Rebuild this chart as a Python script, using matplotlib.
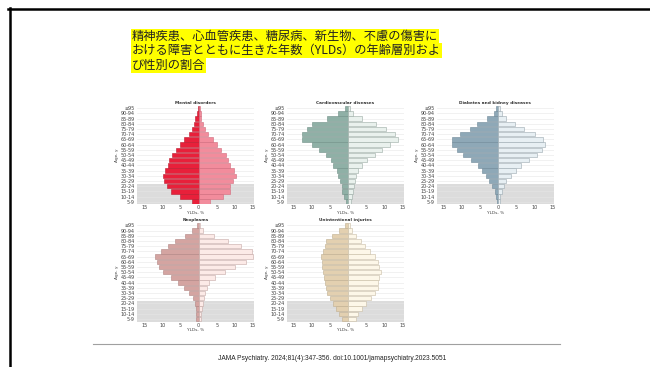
import numpy as np
import matplotlib.pyplot as plt
from matplotlib.lines import Line2D

# age groups, bottom to top
ages = ['5-9', '10-14', '15-19', '20-24', '25-29', '30-34', '35-39', '40-44',
        '45-49', '50-54', '55-59', '60-64', '65-69', '70-74', '75-79', '80-84',
        '85-89', '90-94', '≥95']

# YLDs, % (left = male, right = female), listed bottom to top
mental_m = [1.7, 5.1, 7.7, 8.6, 9.5, 9.8, 9.2, 8.4, 8.2, 7.4, 6.2, 5.2, 4.0, 2.6, 1.8, 1.3, 0.9, 0.5, 0.2]
mental_f = [3.1, 6.8, 8.6, 8.6, 9.5, 10.3, 9.7, 8.8, 8.1, 7.5, 6.2, 5.0, 3.9, 2.7, 1.7, 1.1, 0.8, 0.6, 0.4]
cardio_m = [0.7, 1.2, 1.6, 1.8, 2.3, 2.7, 3.1, 4.2, 4.9, 6.2, 8.1, 10.1, 12.7, 12.8, 11.5, 9.9, 6.0, 2.7, 0.9]
cardio_f = [0.7, 1.1, 1.4, 1.6, 1.8, 2.2, 2.8, 3.9, 5.2, 7.3, 9.4, 11.4, 13.8, 13.0, 10.5, 7.7, 3.9, 1.4, 0.5]
diab_m = [0.4, 0.6, 1.0, 1.7, 2.6, 3.5, 4.4, 5.7, 7.6, 9.7, 11.5, 12.7, 12.7, 10.6, 7.9, 5.8, 3.1, 1.3, 0.5]
diab_f = [0.4, 0.6, 0.9, 1.5, 2.2, 3.5, 4.8, 6.3, 8.6, 10.8, 12.1, 12.8, 12.3, 10.1, 7.0, 4.6, 2.2, 0.9, 0.4]
neo_m = [0.6, 0.6, 0.7, 0.9, 1.5, 2.6, 3.9, 5.7, 7.6, 9.7, 10.8, 11.6, 12.1, 10.5, 8.5, 6.6, 3.8, 1.7, 0.5]
neo_f = [0.6, 0.7, 0.9, 1.1, 1.6, 1.8, 2.2, 2.8, 4.5, 7.2, 10.1, 13.2, 15.0, 14.7, 11.7, 8.0, 4.2, 1.3, 0.4]
inj_m = [1.8, 2.6, 3.3, 4.2, 5.1, 5.9, 6.2, 6.4, 6.6, 7.0, 7.2, 7.3, 7.5, 6.9, 6.4, 6.1, 4.4, 2.6, 0.9]
inj_f = [2.0, 2.8, 3.7, 5.0, 6.2, 7.5, 8.1, 8.3, 8.6, 9.0, 8.6, 8.1, 7.5, 5.9, 4.6, 3.4, 2.2, 1.1, 0.6]

xticks = [-15, -10, -5, 0, 5, 10, 15]
xticklabels = ['15', '10', '5', '0', '5', '10', '15']

title_lines = ['精神疾患、心血管疾患、糖尿病、新生物、不慮の傷害に',
               'おける障害とともに生きた年数（YLDs）の年齢層別およ',
               'び性別の割合']
citation = 'JAMA Psychiatry. 2024;81(4):347-356. doi:10.1001/jamapsychiatry.2023.5051'

panels = [
    ('Mental disorders', mental_m, mental_f, '#E8203A', '#F28C9C', '#B81A2E', '#D06A7C', 0, 0),
    ('Cardiovascular diseases', cardio_m, cardio_f, '#8FB0A6', '#E9F1ED', '#6F8F86', '#9AAAA4', 0, 1),
    ('Diabetes and kidney diseases', diab_m, diab_f, '#8EA8B7', '#E7EFF3', '#6E8898', '#9AA8B0', 0, 2),
    ('Neoplasms', neo_m, neo_f, '#D4A4A1', '#FCEAE7', '#B08482', '#C4A8A6', 1, 0),
    ('Unintentional injuries', inj_m, inj_f, '#E3D0B0', '#FDF7E8', '#BFAE90', '#C8BCA4', 1, 1),
]

W, H = 650, 367
fig = plt.figure(figsize=(6.5, 3.67), dpi=100)

col_left = [137, 286.7, 436.7]
row_bottom = [204.3, 321.5]
ax_w, ax_h = 117, 98.6

y = np.arange(len(ages))
for name, m, f, cm, cf, em, ef, r, c in panels:
    ax = fig.add_axes([col_left[c] / W, 1 - row_bottom[r] / H, ax_w / W, ax_h / H])
    ax.axhspan(-0.5, 3.5, color='#DCDCDC', zorder=0, lw=0)
    ax.barh(y, -np.array(m), height=0.85, color=cm, edgecolor=em, lw=0.4, zorder=2)
    ax.barh(y, f, height=0.85, color=cf, edgecolor=ef, lw=0.4, zorder=2)
    ax.set_xlim(-17, 15.3)
    ax.set_ylim(-0.5, 18.5)
    ax.set_yticks(y)
    ax.set_yticklabels(ages, fontsize=3.5, color='#444444')
    ax.set_xticks(xticks)
    ax.set_xticklabels(xticklabels, fontsize=3.5, color='#444444')
    ax.tick_params(axis='y', length=0, pad=1.5)
    ax.tick_params(axis='x', length=0, pad=0.8)
    ax.grid(axis='y', color='#E6E6E6', lw=0.4, zorder=1)
    for s in ax.spines.values():
        s.set_visible(False)
    ax.set_title(name, fontsize=3.1, fontweight='bold', color='#333333', pad=1.2)
    ax.set_xlabel('YLDs, %', fontsize=3.1, color='#444444', labelpad=0.3)
    ax.set_ylabel('Age, y', fontsize=3.1, color='#444444', labelpad=1)

# title with yellow highlight, one box per line
for i, line in enumerate(title_lines):
    fig.text(132 / W, 1 - (36.3 + 14.5 * i) / H, line, fontsize=8.8,
             family=['Noto Sans CJK JP', 'DejaVu Sans'], color='#222222',
             ha='left', va='center',
             bbox=dict(boxstyle='square,pad=0.08', fc='#FFFF00', ec='none'))

# rule and citation
fig.add_artist(Line2D([93 / W, 560 / W], [1 - 344 / H] * 2, color='#A0A0A0', lw=0.8))
fig.text(332 / W, 1 - 358 / H, citation, fontsize=4.8, family='Liberation Sans',
         color='#222222', ha='center', va='center')

# slide frame (top and left edges)
fig.add_artist(Line2D([8 / W, 1], [1 - 8.7 / H] * 2, color='black', lw=1.8))
fig.add_artist(Line2D([9.7 / W] * 2, [1 - 8 / H, 0], color='black', lw=1.8))

fig.savefig('out.png', dpi=100)
